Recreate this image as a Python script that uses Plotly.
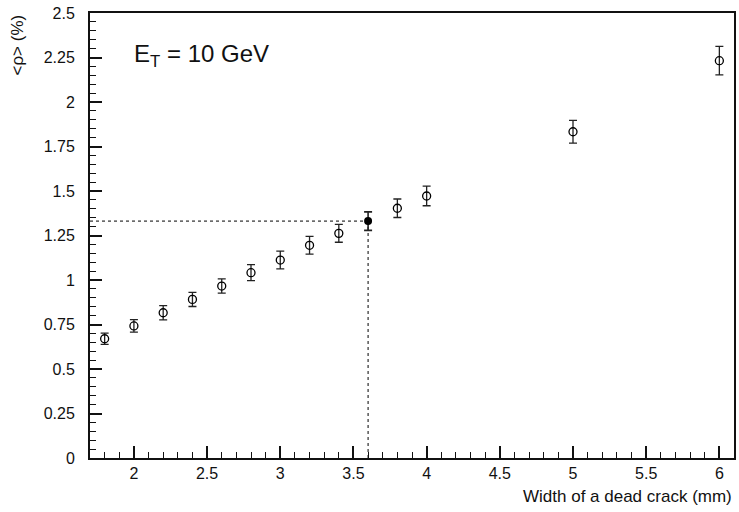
import plotly.graph_objects as go

# data
width_mm = [1.8, 2.0, 2.2, 2.4, 2.6, 2.8, 3.0, 3.2, 3.4, 3.8, 4.0, 5.0, 6.0]
rho_pct = [0.670, 0.742, 0.816, 0.891, 0.966, 1.041, 1.112, 1.195, 1.262, 1.403, 1.472, 1.833, 2.232]
rho_err = [0.032, 0.035, 0.040, 0.040, 0.040, 0.045, 0.050, 0.050, 0.050, 0.052, 0.055, 0.064, 0.080]

sel_width = [3.6]
sel_rho = [1.331]
sel_err = [0.052]

x_ticks = [2, 2.5, 3, 3.5, 4, 4.5, 5, 5.5, 6]
y_ticks = [0, 0.25, 0.5, 0.75, 1, 1.25, 1.5, 1.75, 2, 2.25, 2.5]
y_ticklabels = ["0", "0.25", "0.5", "0.75", "1", "1.25", "1.5", "1.75", "2", "2.25", "2.5"]

FONT = "Liberation Sans"
INK = "#111111"

fig = go.Figure()

fig.add_trace(go.Scatter(
    x=width_mm, y=rho_pct, mode="markers",
    marker=dict(symbol="circle-open", size=8, color="black", line=dict(width=1.3, color="black")),
    error_y=dict(type="data", array=rho_err, visible=True, color="#222", thickness=1.3, width=4),
    showlegend=False,
))
fig.add_trace(go.Scatter(
    x=sel_width, y=sel_rho, mode="markers",
    marker=dict(symbol="circle", size=8, color="black"),
    error_y=dict(type="data", array=sel_err, visible=True, color="#222", thickness=1.6, width=4),
    showlegend=False,
))

# dotted guide lines to the selected point
fig.add_shape(type="line", x0=1.7, x1=sel_width[0], y0=sel_rho[0], y1=sel_rho[0],
              line=dict(color="black", width=1, dash="dot"), layer="below")
fig.add_shape(type="line", x0=sel_width[0], x1=sel_width[0], y0=0, y1=sel_rho[0],
              line=dict(color="black", width=1, dash="dot"), layer="below")

fig.update_layout(
    width=739, height=512,
    margin=dict(l=90, r=3, t=13, b=54),
    paper_bgcolor="white", plot_bgcolor="white",
    font=dict(family=FONT, size=15, color=INK),
    xaxis=dict(
        range=[1.7, 6.1], tickvals=x_ticks, ticks="inside", ticklen=12, tickwidth=1.5,
        tickcolor=INK, showline=True, linewidth=2, linecolor=INK, mirror=True,
        showgrid=False, zeroline=False,
        minor=dict(ticks="inside", ticklen=6, dtick=0.1, tick0=0, tickwidth=1.3, tickcolor=INK, showgrid=False),
        tickfont=dict(size=16, family=FONT, color=INK),
    ),
    yaxis=dict(
        range=[0, 2.5], tickvals=y_ticks, ticktext=y_ticklabels, ticks="inside", ticklen=12,
        tickwidth=1.5, tickcolor=INK, showline=True, linewidth=2, linecolor=INK, mirror=True,
        showgrid=False, zeroline=False,
        minor=dict(ticks="inside", ticklen=6, dtick=0.05, tick0=0, tickwidth=1.3, tickcolor=INK, showgrid=False),
        tickfont=dict(size=16, family=FONT, color=INK), ticklabelstandoff=10,
    ),
)

fig.add_annotation(text="Width of a dead crack (mm)", xref="paper", yref="paper",
                   x=1.0, y=0, yshift=-27, xanchor="right", yanchor="top", showarrow=False,
                   font=dict(size=17, family=FONT, color=INK))
fig.add_annotation(text="<ρ> (%)", xref="paper", yref="paper",
                   x=0, xshift=-73, y=1.0, xanchor="center", yanchor="top", textangle=-90,
                   showarrow=False, font=dict(size=17, family=FONT, color=INK))
fig.add_annotation(text="E<sub>T</sub> = 10 GeV", xref="paper", yref="paper",
                   x=0, xshift=42, y=1.0, yshift=-42, xanchor="left", yanchor="middle",
                   showarrow=False, font=dict(size=24, family=FONT, color=INK))

fig.write_html("out.html", config={"displayModeBar": False},
               post_script="document.body.style.margin='0';document.body.style.overflow='hidden';")
